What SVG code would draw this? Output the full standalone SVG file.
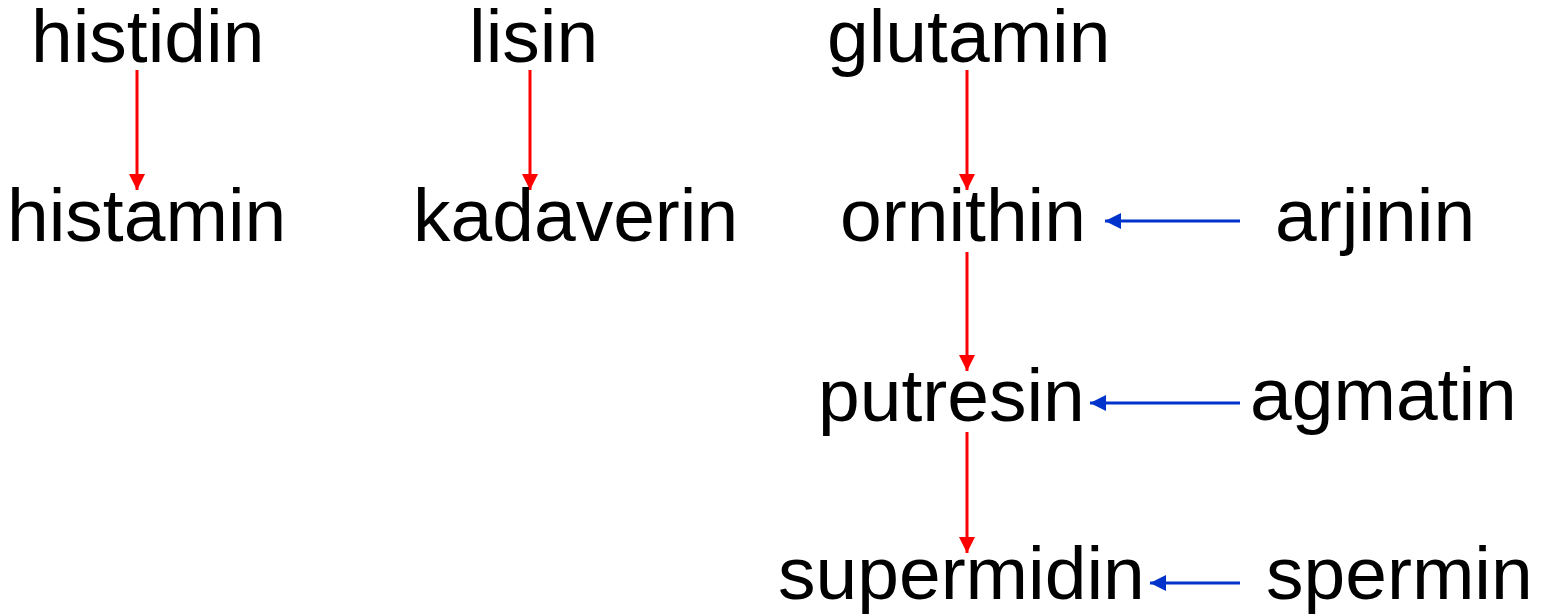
<svg xmlns="http://www.w3.org/2000/svg" width="1542" height="616" viewBox="0 0 1542 616">
  <style>
    .lbl { font-family: "Liberation Sans", Arial, sans-serif; font-size: 75px; fill: #000; }
    .red { stroke: #ff0000; stroke-width: 3; fill: none; }
    .blue { stroke: #0033cc; stroke-width: 3; fill: none; }
  </style>
  <defs>
    <marker id="headRed" viewBox="0 0 16 16" refX="16" refY="8" markerWidth="16" markerHeight="16" markerUnits="userSpaceOnUse" orient="auto">
      <path d="M0,0 L16,8 L0,16 Z" fill="#ff0000"/>
    </marker>
    <marker id="headBlue" viewBox="0 0 16 16" refX="16" refY="8" markerWidth="16" markerHeight="16" markerUnits="userSpaceOnUse" orient="auto">
      <path d="M0,0 L16,8 L0,16 Z" fill="#0033cc"/>
    </marker>
  </defs>

  <g id="connectors">
    <line class="red" x1="137" y1="70" x2="137" y2="190" marker-end="url(#headRed)"/>
    <line class="red" x1="530" y1="70" x2="530" y2="190" marker-end="url(#headRed)"/>
    <line class="red" x1="967" y1="70" x2="967" y2="190" marker-end="url(#headRed)"/>
    <line class="red" x1="967" y1="252" x2="967" y2="371" marker-end="url(#headRed)"/>
    <line class="red" x1="967" y1="432" x2="967" y2="553" marker-end="url(#headRed)"/>
    <line class="blue" x1="1240" y1="221" x2="1105" y2="221" marker-end="url(#headBlue)"/>
    <line class="blue" x1="1240" y1="403" x2="1090" y2="403" marker-end="url(#headBlue)"/>
    <line class="blue" x1="1240" y1="583" x2="1150" y2="583" marker-end="url(#headBlue)"/>
  </g>

  <g id="histidin"><text class="lbl" x="31" y="62">histidin</text></g>
  <g id="lisin"><text class="lbl" x="469" y="62">lisin</text></g>
  <g id="glutamin"><text class="lbl" x="827" y="62">glutamin</text></g>
  <g id="histamin"><text class="lbl" x="7" y="241">histamin</text></g>
  <g id="kadaverin"><text class="lbl" x="413" y="241">kadaverin</text></g>
  <g id="ornithin"><text class="lbl" x="840" y="241">ornithin</text></g>
  <g id="arjinin"><text class="lbl" x="1275" y="241">arjinin</text></g>
  <g id="putresin"><text class="lbl" x="818" y="421">putresin</text></g>
  <g id="agmatin"><text class="lbl" x="1250" y="420">agmatin</text></g>
  <g id="supermidin"><text class="lbl" x="778" y="599">supermidin</text></g>
  <g id="spermin"><text class="lbl" x="1266" y="599">spermin</text></g>
</svg>
